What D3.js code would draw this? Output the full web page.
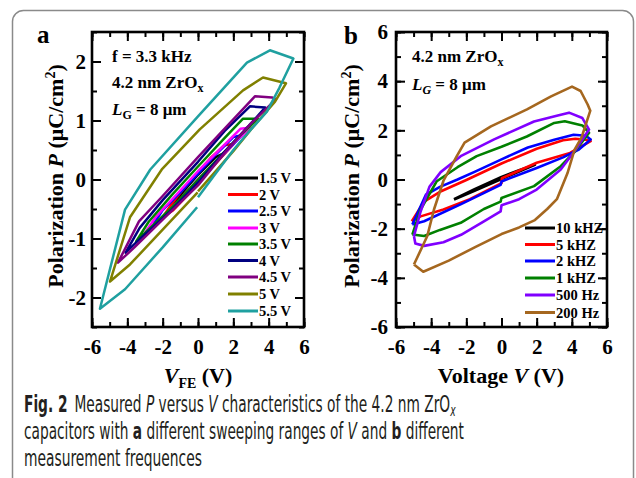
<!DOCTYPE html>
<html>
<head>
<meta charset="utf-8">
<script src="https://cdn.jsdelivr.net/npm/d3@7"></script>
<style>
body{margin:0;background:#fff}
svg{display:block}
</style>
</head>
<body>
<div id="canvas"></div>
<script>
// ---- panel a : P-V loops, f = 3.3 kHz, different sweep ranges ----
const labelsA = ['1.5 V','2 V','2.5 V','3 V','3.5 V','4 V','4.5 V','5 V','5.5 V']
const colorsA = ['#000000','#ff0000','#0000ff','#ff00ff','#008000','#000080','#800080','#808000','#1fa0a0']
const loop15 = [[0,-0.02],[0.8,0.23],[1.5,0.45],[1,0.38],[0,0.08],[-1,-0.26],[-1.5,-0.45],[-0.8,-0.26],[0,-0.02]]
const loop20 = [[0,-0.05],[1,0.27],[2,0.6],[1.5,0.58],[0.7,0.36],[0,0.12],[-0.8,-0.15],[-1.5,-0.42],[-2,-0.64],[-1.4,-0.52],[-0.7,-0.3],[0,-0.05]]
const loop25 = [[0,-0.02],[1.2,0.35],[2.5,0.75],[2,0.72],[1,0.42],[0,0.1],[-1,-0.22],[-2,-0.52],[-2.5,-0.75],[-1.8,-0.6],[-0.9,-0.32],[0,-0.02]]
const loop30 = [[0,0],[1.5,0.45],[2.3,0.7],[3,0.88],[2.4,0.86],[1.2,0.5],[0,0.14],[-1.2,-0.25],[-2.4,-0.64],[-3,-0.9],[-2.3,-0.72],[-1.1,-0.36],[0,0]]
const loop35 = [[0,0],[1.5,0.47],[2.5,0.78],[3.4,1.03],[2.55,1.03],[1.5,0.7],[0,0.22],[-1.5,-0.27],[-2.8,-0.72],[-3.5,-1.05],[-2.7,-0.82],[-1.3,-0.42],[0,0]]
const loop40 = [[0,-0.05],[1.5,0.47],[3,0.95],[3.8,1.22],[2.94,1.24],[1.5,0.82],[0,0.3],[-2,-0.35],[-3.3,-0.82],[-4.1,-1.24],[-3.2,-0.98],[-1.5,-0.52],[0,-0.05]]
const loop45 = [[0,-0.1],[1.5,0.45],[3,0.95],[3.8,1.18],[4.4,1.36],[4.19,1.39],[3.22,1.41],[2,1.02],[0,0.38],[-2,-0.28],[-3.34,-0.71],[-4.53,-1.41],[-3.6,-1.15],[-2,-0.68],[0,-0.1]]
const loop50 = [[0,-0.2],[2,0.48],[3,0.85],[4.36,1.32],[4.98,1.63],[3.68,1.73],[2.55,1.51],[0.1,0.85],[-2.05,0.17],[-3.85,-0.64],[-4.98,-1.73],[-3.85,-1.44],[-2,-0.85],[-0.02,-0.22]]
const loop55 = [[0,-0.3],[1,0.1],[2,0.5],[3,0.85],[3.9,1.15],[4.6,1.55],[5.4,2.05],[4.07,2.19],[2.77,1.98],[0,1.07],[-2.7,0.17],[-4.13,-0.51],[-5.55,-2.19],[-4.13,-1.86],[-2,-1.15],[-0.05,-0.47]]
const loopsA = [loop15,loop20,loop25,loop30,loop35,loop40,loop45,loop50,loop55]

// ---- panel b : P-V loops, 5 V sweep, different frequencies ----
const labelsB = ['10 kHZ','5 kHZ','2 kHZ','1 kHZ','500 Hz','200 Hz']
const colorsB = ['#000000','#ff0000','#0000ff','#008000','#8000ff','#a5671f']
const f10k = [[-2.7,-0.82],[-1.5,-0.45],[0,0.02],[1,0.32],[1.9,0.6],[1,0.38],[0,0.1],[-1.5,-0.38],[-2.7,-0.8]]
const f5k = [[-5.1,-1.7],[-4.6,-1.5],[-3.3,-1.22],[-1.8,-0.8],[0,-0.15],[0.02,0.05],[2,0.68],[3.9,1.08],[5.07,1.56],
  [4.8,1.62],[4.2,1.66],[3.5,1.6],[2,1.25],[0,0.65],[-2,-0.02],[-3.5,-0.5],[-4.4,-0.9],[-5.1,-1.7]]
const f2k = [[-5.07,-1.83],[-4.4,-1.7],[-2.3,-1.0],[-0.05,-0.22],[0,-0.08],[2,0.47],[3.5,0.9],[4.4,1.22],[5.07,1.63],
  [4.8,1.78],[4.1,1.82],[3,1.62],[1.5,1.3],[0,0.82],[-1.5,0.32],[-2.5,0.0],[-3.5,-0.3],[-4.3,-0.62],[-5.07,-1.83]]
const f1k = [[-5.07,-2.24],[-4.4,-2.3],[-3.5,-2.05],[-2.32,-1.76],[-1,-1.2],[-0.05,-0.9],[0,-0.75],[1.85,-0.27],[3.37,0.54],[4.13,1.1],[4.98,1.9],
  [4.6,2.2],[3.6,2.37],[3,2.3],[1.44,1.75],[0,1.33],[-1.41,0.95],[-2.5,0.5],[-3.68,-0.07],[-4.6,-1.22],[-5.07,-2.24]]
const f500 = [[-4.98,-2.3],[-4.9,-2.6],[-4.4,-2.7],[-3.3,-2.55],[-2.3,-2.25],[-1,-1.7],[-0.05,-1.3],[0,-1.05],[1,-0.8],[2,-0.41],[3.37,0.41],[4.22,1.22],[4.98,2.03],
  [4.6,2.5],[3.84,2.72],[3.2,2.6],[1.85,2.36],[-0.42,1.63],[-2.32,0.95],[-3.46,0.3],[-4.1,-0.3],[-4.6,-1.3],[-4.98,-2.3]]
const f200 = [[-4.98,-3.46],[-4.45,-3.75],[-3,-3.3],[-1.5,-2.75],[0,-2.22],[1,-1.95],[1.9,-1.65],[2.6,-1.2],[3.15,-0.8],[3.75,0.25],[4.15,1.2],[4.55,1.7],[5.05,2.8],
  [4.9,3.05],[4.5,3.6],[4.01,3.78],[2.82,3.38],[1.45,2.85],[-0.6,2.16],[-2.1,1.5],[-2.55,0.94],[-3.3,-0.05],[-3.84,-1.22],[-4.22,-2.3],[-4.98,-3.46]]
const loopsB = [f10k,f5k,f2k,f1k,f500,f200]

const xTicks = [-6,-4,-2,0,2,4,6]
const xMinor = d3.range(-6,7,1)
const yTicksA = [-2,-1,0,1,2]
const yMinorA = [-2.5,-2,-1.5,-1,-0.5,0,0.5,1,1.5,2,2.5]
const yTicksB = [-6,-4,-2,0,2,4,6]
const yMinorB = d3.range(-6,7,1)

const width = 636, height = 478
const serif = '"Liberation Serif","Times New Roman",serif'

const svg = d3.select('#canvas').append('svg')
  .attr('width', width).attr('height', height)

// outer figure frame
svg.append('rect')
  .attr('x', 12.5).attr('y', 10.5).attr('width', 621).attr('height', 480)
  .attr('rx', 11).attr('fill', 'none').attr('stroke', '#8a8a8a').attr('stroke-width', 1.5)

function panel(opt) {
  const g = svg.append('g')
  const x = d3.scaleLinear().domain([-6, 6]).range(opt.xr)
  const y = d3.scaleLinear().domain(opt.yd).range([327, 32])

  const fmt = d => d3.format('d')(d).replace('−', '-')

  // minor ticks, all four sides, inward
  g.append('g').attr('transform', `translate(0,${y.range()[0]})`)
    .call(d3.axisBottom(x).tickValues(xMinor).tickSize(-5).tickFormat(''))
  g.append('g').attr('transform', `translate(0,${y.range()[1]})`)
    .call(d3.axisTop(x).tickValues(xMinor).tickSize(-5).tickFormat(''))
  g.append('g').attr('transform', `translate(${x.range()[0]},0)`)
    .call(d3.axisLeft(y).tickValues(opt.yMinor).tickSize(-5).tickFormat(''))
  g.append('g').attr('transform', `translate(${x.range()[1]},0)`)
    .call(d3.axisRight(y).tickValues(opt.yMinor).tickSize(-5).tickFormat(''))
  // major ticks
  g.append('g').attr('transform', `translate(0,${y.range()[0]})`)
    .call(d3.axisBottom(x).tickValues(xTicks).tickSize(-9).tickPadding(12).tickFormat(fmt))
  g.append('g').attr('transform', `translate(0,${y.range()[1]})`)
    .call(d3.axisTop(x).tickValues(xTicks).tickSize(-9).tickFormat(''))
  g.append('g').attr('transform', `translate(${x.range()[0]},0)`)
    .call(d3.axisLeft(y).tickValues(opt.yTicks).tickSize(-9).tickPadding(opt.ypad).tickFormat(fmt))
  g.append('g').attr('transform', `translate(${x.range()[1]},0)`)
    .call(d3.axisRight(y).tickValues(opt.yTicks).tickSize(-9).tickFormat(''))

  g.selectAll('.domain').remove()
  g.selectAll('.tick line').attr('stroke', '#000').attr('stroke-width', 2)
  g.selectAll('.tick text').attr('font-family', serif).attr('font-size', 21)
    .attr('font-weight', 'bold').attr('fill', '#000')

  // data loops
  const line = d3.line().x(d => x(d[0])).y(d => y(d[1]))
  g.selectAll('path.loop').data(opt.loops).enter().append('path')
    .attr('class', 'loop')
    .attr('d', line)
    .attr('fill', 'none')
    .attr('stroke', (d, i) => opt.colors[i])
    .attr('stroke-width', opt.lw)
    .attr('stroke-linejoin', 'round')

  // box
  g.append('rect')
    .attr('x', x.range()[0]).attr('y', y.range()[1])
    .attr('width', x.range()[1] - x.range()[0]).attr('height', y.range()[0] - y.range()[1])
    .attr('fill', 'none').attr('stroke', '#000').attr('stroke-width', 2.6)

  // legend
  const lg = g.selectAll('g.leg').data(opt.labels).enter().append('g')
    .attr('transform', (d, i) => `translate(0,${opt.legY[i]})`)
  lg.append('line')
    .attr('x1', opt.legX).attr('x2', opt.legX + 30)
    .attr('stroke', (d, i) => opt.colors[i]).attr('stroke-width', 3)
  lg.append('text').text(d => d)
    .attr('x', opt.legX + 31).attr('dy', '0.35em')
    .attr('font-family', serif).attr('font-size', 14.5).attr('font-weight', 'bold')

  // y title
  const yt = g.append('text')
    .attr('transform', `translate(${opt.ytx},176) rotate(-90)`)
    .attr('text-anchor', 'middle')
    .attr('font-family', serif).attr('font-size', 22).attr('font-weight', 'bold')
  yt.append('tspan').text('Polarization ')
  yt.append('tspan').text('P').attr('font-style', 'italic')
  yt.append('tspan').text(' (\u03bcC/cm')
  yt.append('tspan').text('2').attr('font-size', 14).attr('dy', -8)
  yt.append('tspan').text(')').attr('dy', 8)

  return { g, x, y }
}

function note(g, x, y, parts) {
  const t = g.append('text').attr('x', x).attr('y', y)
    .attr('font-family', serif).attr('font-size', 17).attr('font-weight', 'bold')
  parts.forEach(p => {
    const s = t.append('tspan').text(p.t)
    if (p.it) s.attr('font-style', 'italic')
    if (p.sub) s.attr('font-size', 12).attr('dy', 4)
    if (p.back) s.attr('dy', -4)
  })
}

// panel a
const A = panel({
  xr: [92, 304], yd: [-2.5, 2.5], yTicks: yTicksA, yMinor: yMinorA, ypad: 6,
  loops: loopsA, colors: colorsA, labels: labelsA, lw: 2.5,
  legX: 228, legY: [178, 194.5, 211, 228, 244, 260.5, 277, 294, 311], ytx: 63
})
// panel b
const B = panel({
  xr: [396, 607], yd: [-6, 6], yTicks: yTicksB, yMinor: yMinorB, ypad: 8,
  loops: loopsB, colors: colorsB, labels: labelsB, lw: 2.6,
  legX: 525, legY: [228, 244.5, 261, 278, 295, 312.5], ytx: 359
})

// panel letters
svg.append('text').text('a').attr('x', 37).attr('y', 43)
  .attr('font-family', serif).attr('font-size', 25).attr('font-weight', 'bold')
svg.append('text').text('b').attr('x', 344).attr('y', 44)
  .attr('font-family', serif).attr('font-size', 25).attr('font-weight', 'bold')

note(A.g, 112, 62, [{t: 'f = 3.3 kHz'}])
note(A.g, 112, 88, [{t: '4.2 nm ZrO'}, {t: 'x', sub: true}])
note(A.g, 112, 115, [{t: 'L', it: true}, {t: 'G', sub: true}, {t: ' = 8 \u03bcm', back: true}])
note(B.g, 412, 62, [{t: '4.2 nm ZrO'}, {t: 'x', sub: true}])
note(B.g, 412, 90, [{t: 'L', it: true}, {t: 'G', sub: true, it: true}, {t: ' = 8 \u03bcm', back: true}])

// x titles
const xa = svg.append('text').attr('x', 198).attr('y', 383).attr('text-anchor', 'middle')
  .attr('font-family', serif).attr('font-size', 22).attr('font-weight', 'bold')
xa.append('tspan').text('V').attr('font-style', 'italic')
xa.append('tspan').text('FE').attr('font-size', 14).attr('dy', 5)
xa.append('tspan').text(' (V)').attr('dy', -5)

const xb = svg.append('text').attr('x', 501).attr('y', 383).attr('text-anchor', 'middle')
  .attr('font-family', serif).attr('font-size', 22).attr('font-weight', 'bold')
xb.append('tspan').text('Voltage ')
xb.append('tspan').text('V').attr('font-style', 'italic')
xb.append('tspan').text(' (V)')

// caption, squeezed horizontally to match the condensed face of the original
const capFont = '"Liberation Sans Narrow","DejaVu Sans Condensed","Open Sans",sans-serif'
const capLines = [
  { y: 412, w: 432, parts: [{t: 'Fig. 2', b: true}, {t: '\u2002Measured '}, {t: 'P', i: true}, {t: ' versus '}, {t: 'V', i: true},
      {t: ' characteristics of the 4.2 nm ZrO'}, {t: 'x', i: true, sub: true}] },
  { y: 439, w: 440, parts: [{t: 'capacitors with '}, {t: 'a', b: true}, {t: ' different sweeping ranges of '}, {t: 'V', i: true},
      {t: ' and '}, {t: 'b', b: true}, {t: ' different'}] },
  { y: 466, w: 178, parts: [{t: 'measurement frequences'}] }
]
capLines.forEach(l => {
  const t = svg.append('text')
    .attr('font-family', capFont).attr('font-size', 22.5).attr('fill', '#231f20')
  l.parts.forEach(p => {
    const s = t.append('tspan').text(p.t)
    if (p.b) s.attr('font-weight', 'bold')
    if (p.i) s.attr('font-style', 'italic')
    if (p.sub) s.attr('font-size', 15).attr('dy', 4)
  })
  const natural = t.node().getComputedTextLength()
  t.attr('transform', `translate(24,${l.y}) scale(${l.w / natural},1)`)
})
</script>
</body>
</html>
